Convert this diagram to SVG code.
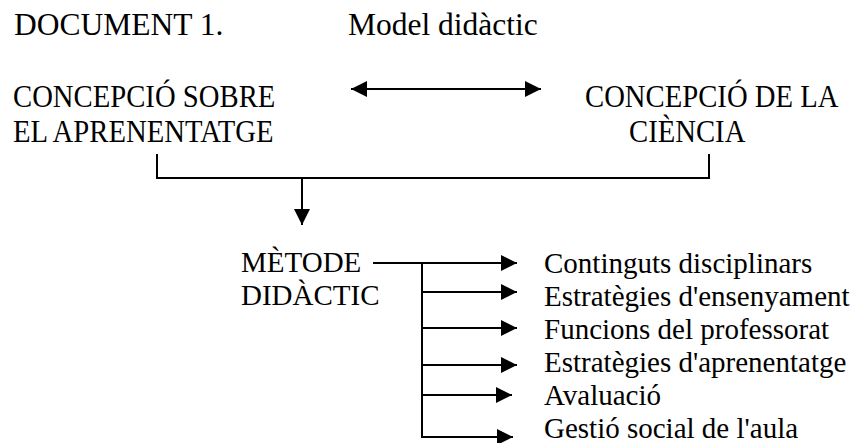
<svg xmlns="http://www.w3.org/2000/svg" width="858" height="443" viewBox="0 0 858 443">
  <style>
    .t { font-size: 29px; fill: #000; }
    .big { font-size: 31.5px; }
    .ln { stroke: #000; stroke-width: 2; fill: none; }
  </style>
  <defs>
    <marker id="ah" markerWidth="16" markerHeight="16" viewBox="0 0 16 16" refX="16" refY="8" orient="auto" markerUnits="userSpaceOnUse">
      <path d="M0,0 L16,8 L0,16 Z" fill="#000"/>
    </marker>
    <marker id="ahs" markerWidth="16" markerHeight="16" viewBox="0 0 16 16" refX="16" refY="8" orient="auto-start-reverse" markerUnits="userSpaceOnUse">
      <path d="M0,0 L16,8 L0,16 Z" fill="#000"/>
    </marker>
  </defs>

  <g font-family="Liberation Serif, serif">
    <g id="title" class="t big">
      <text x="14" y="35">DOCUMENT 1.</text>
      <text x="348" y="35">Model didàctic</text>
    </g>

    <!-- the two conception labels are set slightly taller than wide -->
    <g id="concepcio-aprenentatge" class="t" transform="matrix(1 0 0 1.12 0 0.3)">
      <text x="13" y="95" font-size="28.7">CONCEPCIÓ SOBRE</text>
      <text x="13" y="126.5" font-size="28.7">EL APRENENTATGE</text>
    </g>

    <g id="concepcio-ciencia" class="t" transform="matrix(1 0 0 1.12 0 0.3)">
      <text x="585" y="95" font-size="28.7">CONCEPCIÓ DE LA</text>
      <text x="629" y="126.5" font-size="28.7">CIÈNCIA</text>
    </g>

    <g id="metode" class="t">
      <text x="241" y="272">MÈTODE</text>
      <text x="241" y="305">DIDÀCTIC</text>
    </g>

    <g id="components" class="t">
      <text x="544" y="273">Continguts disciplinars</text>
      <text x="544" y="306">Estratègies d'ensenyament</text>
      <text x="544" y="339">Funcions del professorat</text>
      <text x="544" y="372">Estratègies d'aprenentatge</text>
      <text x="544" y="405">Avaluació</text>
      <text x="544" y="438">Gestió social de l'aula</text>
    </g>
  </g>

  <g id="connectors">
    <!-- two-way link between the two conceptions -->
    <line class="ln" x1="351" y1="89" x2="541" y2="89" marker-start="url(#ahs)" marker-end="url(#ah)"/>
    <!-- bracket joining both conceptions -->
    <polyline class="ln" points="157,154 157,178 709,178 709,154"/>
    <line class="ln" x1="302" y1="178" x2="302" y2="225" marker-end="url(#ah)"/>
    <!-- branches of the didactic method -->
    <line class="ln" x1="373" y1="263" x2="517" y2="263" marker-end="url(#ah)"/>
    <line class="ln" x1="422" y1="263" x2="422" y2="437"/>
    <line class="ln" x1="421" y1="292" x2="517" y2="292" marker-end="url(#ah)"/>
    <line class="ln" x1="421" y1="328" x2="517" y2="328" marker-end="url(#ah)"/>
    <line class="ln" x1="421" y1="365" x2="517" y2="365" marker-end="url(#ah)"/>
    <line class="ln" x1="421" y1="395" x2="512" y2="395" marker-end="url(#ah)"/>
    <line class="ln" x1="421" y1="437" x2="513" y2="437" marker-end="url(#ah)"/>
  </g>
</svg>
